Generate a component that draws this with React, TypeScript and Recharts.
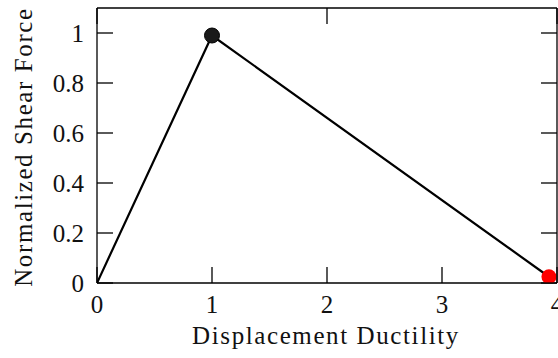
import React from "react";
import { LineChart, Line, XAxis, YAxis } from "recharts";

// Ductility curve: elastic rise, peak, then softening branch
const ductility = [0, 1, 3.93];
const shearForce = [0, 0.99, 0.025];
const markerColors = ["none", "#1a1a1a", "#ff0000"];

const xTicks = [0, 1, 2, 3, 4];
const yTicks = [0, 0.2, 0.4, 0.6, 0.8, 1];
const yTickLabels = ["0", "0.2", "0.4", "0.6", "0.8", "1"];

const data = ductility.map((d, i) => ({ x: d, y: shearForce[i], c: markerColors[i] }));

const FONT = "'Liberation Serif', 'Times New Roman', serif";
const TICK_LEN = 16;
const FRAME = { stroke: "#000", strokeWidth: 1.3 };

const BottomTick = (props: any) => {
  const { x, y, payload } = props;
  return (
    <g>
      <line x1={x} y1={y} x2={x} y2={y - TICK_LEN} stroke="#000" strokeWidth={1.3} />
      <text x={x} y={y + 30} textAnchor="middle" fontFamily={FONT} fontSize={25} fill="#111">
        {String(payload.value)}
      </text>
    </g>
  );
};

const TopTick = (props: any) => {
  const { x, y } = props;
  return <line x1={x} y1={y} x2={x} y2={y + TICK_LEN} stroke="#000" strokeWidth={1.3} />;
};

const LeftTick = (props: any) => {
  const { x, y, payload } = props;
  const label = yTickLabels[yTicks.indexOf(payload.value)] ?? String(payload.value);
  return (
    <g>
      <line x1={x} y1={y} x2={x + TICK_LEN} y2={y} stroke="#000" strokeWidth={1.3} />
      <text x={x - 13} y={y} dy="0.36em" textAnchor="end" fontFamily={FONT} fontSize={25} fill="#111">
        {label}
      </text>
    </g>
  );
};

const RightTick = (props: any) => {
  const { x, y } = props;
  return <line x1={x} y1={y} x2={x - TICK_LEN} y2={y} stroke="#000" strokeWidth={1.3} />;
};

const Marker = (props: any) => {
  const { cx, cy, payload } = props;
  if (payload.c === "none") return <g key={`m-${cx}`} />;
  return (
    <circle
      key={`m-${cx}`}
      cx={cx}
      cy={cy}
      r={7.5}
      fill={payload.c}
      stroke={payload.c === "#ff0000" ? "none" : "#000"}
      strokeWidth={1}
    />
  );
};

export default function App() {
  return (
    <div style={{ position: "absolute", left: 0, top: 0, width: 558, height: 358, background: "#fff" }}>
      <LineChart width={558} height={358} data={data} margin={{ top: 0, right: 0, bottom: 0, left: 0 }}>
        <XAxis
          xAxisId="main"
          dataKey="x"
          type="number"
          domain={[0, 4]}
          ticks={xTicks}
          allowDataOverflow
          height={75}
          tickSize={0}
          tickMargin={0}
          tickLine={false}
          axisLine={FRAME}
          tick={<BottomTick />}
          interval={0}
        />
        <XAxis
          xAxisId="top"
          orientation="top"
          type="number"
          domain={[0, 4]}
          ticks={xTicks}
          allowDataOverflow
          height={8}
          tickSize={0}
          tickMargin={0}
          tickLine={false}
          axisLine={FRAME}
          tick={<TopTick />}
          interval={0}
        />
        <YAxis
          yAxisId="main"
          type="number"
          domain={[0, 1.1]}
          ticks={yTicks}
          allowDataOverflow
          width={97}
          tickSize={0}
          tickMargin={0}
          tickLine={false}
          axisLine={FRAME}
          tick={<LeftTick />}
          interval={0}
        />
        <YAxis
          yAxisId="right"
          orientation="right"
          type="number"
          domain={[0, 1.1]}
          ticks={yTicks}
          allowDataOverflow
          width={1}
          tickSize={0}
          tickMargin={0}
          tickLine={false}
          axisLine={FRAME}
          tick={<RightTick />}
          interval={0}
        />
        <Line
          xAxisId="main"
          yAxisId="main"
          dataKey="y"
          stroke="#000"
          strokeWidth={2.2}
          dot={<Marker />}
          activeDot={false}
          isAnimationActive={false}
        />
        <text
          x={326}
          y={344}
          textAnchor="middle"
          fontFamily={FONT}
          fontSize={25}
          fill="#111"
          letterSpacing={1.6}
        >
          Displacement Ductility
        </text>
        <text
          x={32}
          y={147}
          transform="rotate(-90 32 147)"
          textAnchor="middle"
          fontFamily={FONT}
          fontSize={25}
          fill="#111"
          letterSpacing={1.6}
        >
          Normalized Shear Force
        </text>
      </LineChart>
    </div>
  );
}
